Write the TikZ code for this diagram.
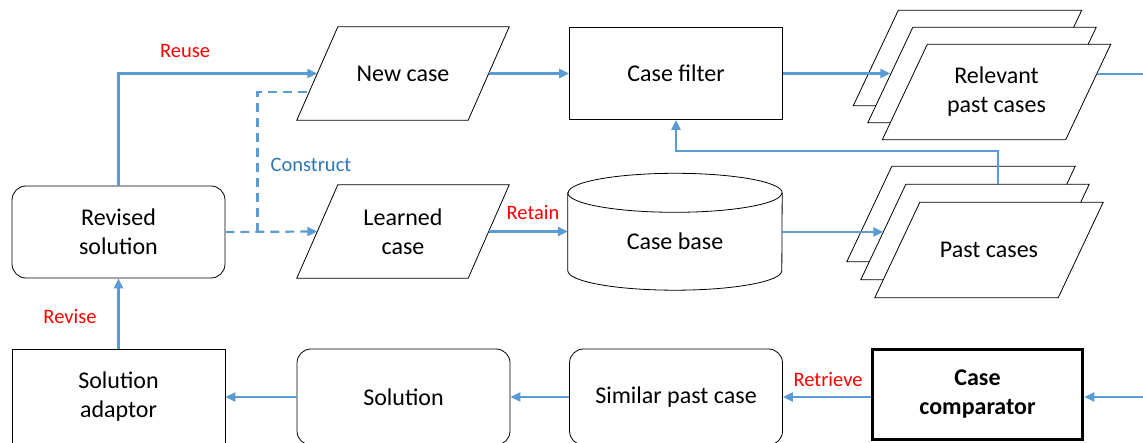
\documentclass[tikz,border=0pt]{standalone}
\usepackage{fontspec}
\setmainfont{Carlito}
\usetikzlibrary{arrows.meta,calc,backgrounds}
\definecolor{flow}{RGB}{91,155,213}
\definecolor{darkflow}{RGB}{46,117,182}
\begin{document}
\begin{tikzpicture}[x=1pt,y=-1pt,
	box/.style={draw,line width=0.8pt,fill=white,minimum width=213pt,minimum height=92pt,inner sep=2pt,align=center,font=\fontsize{24}{29}\selectfont},
	roundbox/.style={box,rounded corners=14pt},
	para/.style={minimum width=171pt,minimum height=93pt,inner sep=2pt,align=center,font=\fontsize{24}{29}\selectfont},
	sheet/.style={para,minimum width=183pt,minimum height=95pt},
	outline/.style={draw,line width=0.8pt,fill=white},
	lbl/.style={text=red,font=\fontsize{20.5}{24}\selectfont},
	flowline/.style={draw=flow,line width=2.2pt},
	arr/.style={flowline,-{Triangle[length=10pt,width=9pt]}}]
		% Sets the picture area and cuts off what is below the bottom edge
		\useasboundingbox (0,0) rectangle (1143,443);
		\clip (0,0) rectangle (1143,443);
		% Top row: new case, filter and the stack of relevant past cases
		\node [para] (newcase) at (403,73.5) {New case};
		\node [box] (filter) at (676,73.5) {Case filter};
		\node [sheet] (relback) at (967.5,58) {};
		\node [sheet] (relmid) at (982,75) {};
		\node [sheet] (relfront) at (996.5,92) {Relevant\\past cases};
		% Middle row
		\node [roundbox] (revsol) at (118.5,232) {Revised\\solution};
		\node [para] (learned) at (403,231.5) {Learned\\case};
		\node [para,minimum width=214pt,minimum height=97pt] (casebase) at (675,241.5) {Case base};
		\node [sheet] (pastback) at (961,214) {};
		\node [sheet] (pastmid) at (975,232) {};
		\node [sheet] (pastfront) at (989,250) {Past cases};
		% Bottom row, cut off by the lower edge
		\node [box,minimum height=96pt] (adaptor) at (118.5,397) {Solution\\adaptor};
		\node [roundbox,minimum height=96pt] (solution) at (403.5,397) {Solution};
		\node [roundbox,minimum height=96pt] (similar) at (676,397) {Similar past case};
		\node [box,line width=3.5pt,minimum width=210pt,minimum height=90pt,font=\fontsize{24}{29}\selectfont\bfseries] (comparator) at (977.5,394.5) {Case\\comparator};
		% Slanted outlines and the cylinder go behind the texts
		\begin{pgfonlayer}{background}
		\foreach \n/\s in {newcase/20.5,learned/20.5,relback/22.5,relmid/22.5,relfront/22.5,pastback/22.5,pastmid/22.5,pastfront/22.5}
			\draw [outline] ([xshift=-\s pt]\n.south west) -- ([xshift=\s pt]\n.north west) -- ([xshift=\s pt]\n.north east) -- ([xshift=-\s pt]\n.south east) -- cycle;
		\draw [outline] (casebase.north west) -- ([yshift=19.5pt]casebase.south west) arc [start angle=180,end angle=360,x radius=107pt,y radius=19.5pt] -- (casebase.north east) arc [start angle=0,end angle=180,x radius=107pt,y radius=19.5pt] -- cycle;
		\draw [line width=0.8pt] (casebase.north west) arc [start angle=180,end angle=360,x radius=107pt,y radius=19.5pt];
		\end{pgfonlayer}
		% Free ends at the right edge
		\coordinate (relout) at (1150,74);
		\coordinate (compin) at (1150,397);
		\coordinate (fork) at ($(revsol.east)+(32,0)$);
		% Reuse: revised solution back to the new case
		\draw [arr] (revsol.north) |- (newcase.west);
		\node [lbl] (reuse) at (185,51) {Reuse};
		% Construct: dashed links to the new case and the learned case
		\draw [arr,dash pattern=on 9pt off 6pt] (revsol.east) -- (learned.west);
		\draw [flowline,dash pattern=on 9pt off 6pt] (fork) |- ($([xshift=-20.5pt]newcase.south west)!0.3!([xshift=20.5pt]newcase.north west)$);
		\node [text=darkflow,font=\fontsize{20.5}{24}\selectfont] (construct) at (311,165) {Construct};
		% Retain: learned case into the case base
		\draw [arr] (learned.east) -- (learned.east -| casebase.west);
		\node [lbl] (retain) at (533,213) {Retain};
		\draw [arr] (casebase.east |- pastmid.west) -- (pastmid.west);
		\draw [arr] ([xshift=23pt]pastmid.north) -- ++(0,-33) -| (filter.south);
		\draw [arr] (newcase.east) -- (filter.west);
		\draw [arr] (filter.east) -- (relmid.west |- filter.east);
		\draw [flowline] ($(relfront.east)+(8.5,-18)$) -- (relout);
		% Retrieve and the way back to the revised solution
		\draw [arr] (compin) -- (compin -| comparator.east);
		\draw [arr] (comparator.west |- similar.east) -- (similar.east);
		\node [lbl] (retrieve) at (828,380) {Retrieve};
		\draw [arr] (similar.west) -- (solution.east);
		\draw [arr] (solution.west) -- (adaptor.east);
		\draw [arr] (adaptor.north) -- (revsol.south);
		\node [lbl] (revise) at (70,317) {Revise};
		\end{tikzpicture}
\end{document}
